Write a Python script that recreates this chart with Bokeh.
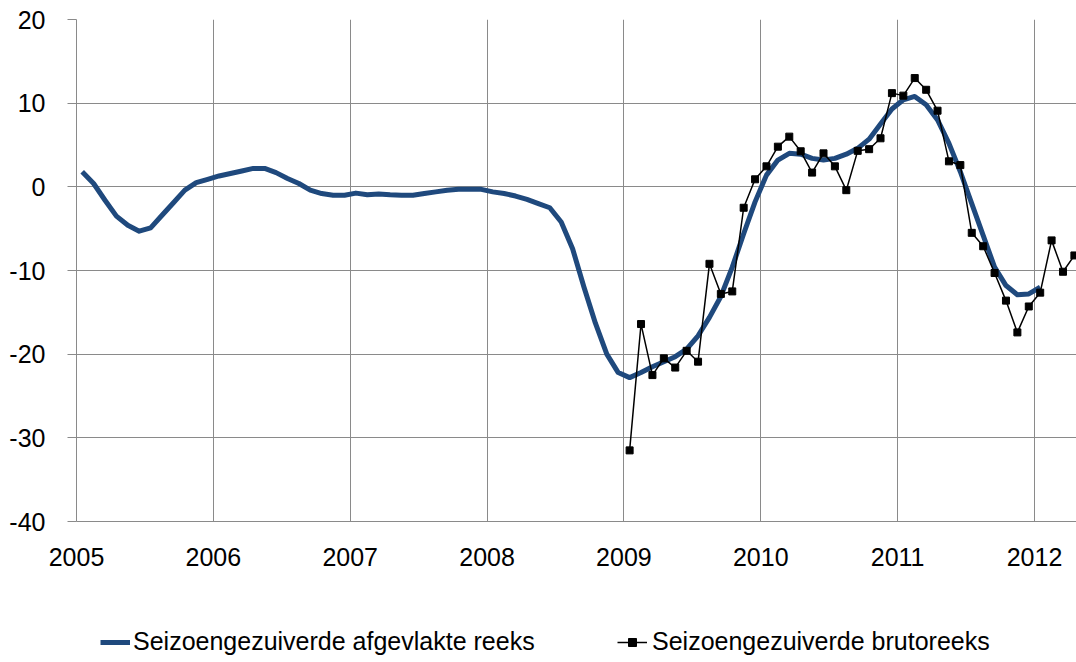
from bokeh.plotting import figure
from bokeh.layouts import column
from bokeh.models import FixedTicker, Legend, LegendItem, Range1d
from bokeh.embed import file_html
from bokeh.resources import INLINE

# ---- data -------------------------------------------------------------
years = [2005, 2006, 2007, 2008, 2009, 2010, 2011, 2012]
y_ticks = [-40, -30, -20, -10, 0, 10, 20]

# Seizoengezuiverde afgevlakte reeks, monthly, Jan 2005 .. Jan 2012
smooth_start = (2005, 1)
smooth = [
    1.8, 0.4, -1.6, -3.5, -4.6, -5.3, -4.9, -3.4, -1.9, -0.4, 0.5, 0.9,      # 2005
    1.3, 1.6, 1.9, 2.2, 2.2, 1.7, 1.0, 0.4, -0.4, -0.8, -1.0, -1.0,          # 2006
    -0.75, -0.95, -0.85, -0.95, -1.0, -1.0, -0.8, -0.6, -0.4, -0.3, -0.3, -0.3,  # 2007
    -0.6, -0.8, -1.1, -1.5, -2.0, -2.5, -4.2, -7.4, -12.0, -16.3, -20.0, -22.2,  # 2008
    -22.8, -22.2, -21.5, -20.9, -20.3, -19.4, -17.8, -15.6, -13.1, -9.6, -5.6, -1.8,  # 2009
    1.4, 3.2, 4.0, 3.9, 3.4, 3.2, 3.4, 3.9, 4.6, 5.7, 7.5, 9.3,              # 2010
    10.4, 10.8, 9.8, 8.0, 5.2, 1.8, -2.0, -5.8, -9.6, -11.8, -12.9, -12.8,   # 2011
    -12.0,                                                                   # 2012
]

# Seizoengezuiverde brutoreeks, monthly, Jan 2009 .. Apr 2012
raw_start = (2009, 1)
raw = [
    -31.5, -16.4, -22.5, -20.5, -21.6, -19.6, -20.9, -9.2, -12.8, -12.5, -2.5, 0.9,  # 2009
    2.45, 4.8, 6.0, 4.25, 1.7, 4.0, 2.45, -0.4, 4.3, 4.5, 5.8, 11.2,                 # 2010
    10.9, 13.0, 11.6, 9.1, 3.05, 2.6, -5.5, -7.1, -10.3, -13.6, -17.4, -14.3,        # 2011
    -12.65, -6.4, -10.15, -8.2,                                                      # 2012
]

labels = ["Seizoengezuiverde afgevlakte reeks", "Seizoengezuiverde brutoreeks"]


def month_positions(start, n):
    y0, m0 = start
    return [y0 + (m0 - 1 + i + 0.5) / 12.0 for i in range(n)]


x_smooth = month_positions(smooth_start, len(smooth))
x_raw = month_positions(raw_start, len(raw))

# ---- style -------------------------------------------------------------
FONT = "Liberation Sans"
FS = "25px"
GRID = "#8a8a8a"
BLUE = "#1F497D"

p = figure(
    width=1076, height=600,
    x_range=Range1d(2005, 2012.307), y_range=Range1d(-40, 20),
    output_backend="svg", toolbar_location=None,
    min_border_left=76, min_border_right=0, min_border_top=19, min_border_bottom=79,
)
p.outline_line_color = None
p.background_fill_color = "white"
p.border_fill_color = "white"

p.xaxis.ticker = FixedTicker(ticks=years)
p.yaxis.ticker = FixedTicker(ticks=y_ticks)
p.xaxis.major_label_overrides = {y: str(y) for y in years}
p.yaxis.major_label_overrides = {v: str(v) for v in y_ticks}
p.xgrid.ticker = FixedTicker(ticks=years)
p.ygrid.ticker = FixedTicker(ticks=y_ticks)
for g in (p.xgrid, p.ygrid):
    g.grid_line_color = GRID
    g.grid_line_width = 1

for ax in (p.xaxis, p.yaxis):
    ax.axis_line_color = GRID
    ax.axis_line_width = 1
    ax.major_tick_line_color = GRID
    ax.minor_tick_line_color = None
    ax.major_tick_in = 0
    ax.major_label_text_font = FONT
    ax.major_label_text_font_size = FS
    ax.major_label_text_color = "#000000"

p.xaxis.major_tick_out = 0
p.xaxis.major_label_standoff = 26
p.yaxis.major_tick_out = 9
p.yaxis.major_label_standoff = 22

blue_style = dict(line_color=BLUE, line_width=5, line_join="round")
blk_style = dict(line_color="black", line_width=1.5)
pts_style = dict(marker="square", size=7, fill_color="black", line_color="black")

p.line(x_smooth, smooth, **blue_style)
p.line(x_raw, raw, **blk_style)
p.scatter(x_raw, raw, **pts_style)

# ---- legend strip below the chart ------------------------------------
# Same series drawn again in a strip whose ranges keep them out of view;
# they only serve as legend glyph sources.
lg = figure(
    width=1076, height=62, x_range=Range1d(0, 1), y_range=Range1d(0, 1),
    output_backend="svg", toolbar_location=None,
    min_border_left=0, min_border_right=0, min_border_top=0, min_border_bottom=0,
)
lg.axis.visible = False
lg.grid.visible = False
lg.outline_line_color = None
lg.background_fill_color = "white"
lg.border_fill_color = "white"

r_blue = lg.line(x_smooth, smooth, **blue_style)
r_blk = lg.line(x_raw, raw, **blk_style)
r_pts = lg.scatter(x_raw, raw, **{**pts_style, "size": 6})

common = dict(
    orientation="horizontal", glyph_width=30, glyph_height=20,
    padding=0, margin=0, border_line_color=None, background_fill_alpha=0,
    label_text_font=FONT, label_text_font_size=FS, label_text_color="black",
)
leg1 = Legend(items=[LegendItem(label=labels[0], renderers=[r_blue])],
              location=(24, 6), label_standoff=3, **common)
leg2 = Legend(items=[LegendItem(label=labels[1], renderers=[r_blk, r_pts])],
              location=(541, 6), label_standoff=5, **common)
lg.add_layout(leg1, "center")
lg.add_layout(leg2, "center")

layout = column(p, lg, spacing=0)
open("out.html", "w").write(file_html(layout, INLINE))
